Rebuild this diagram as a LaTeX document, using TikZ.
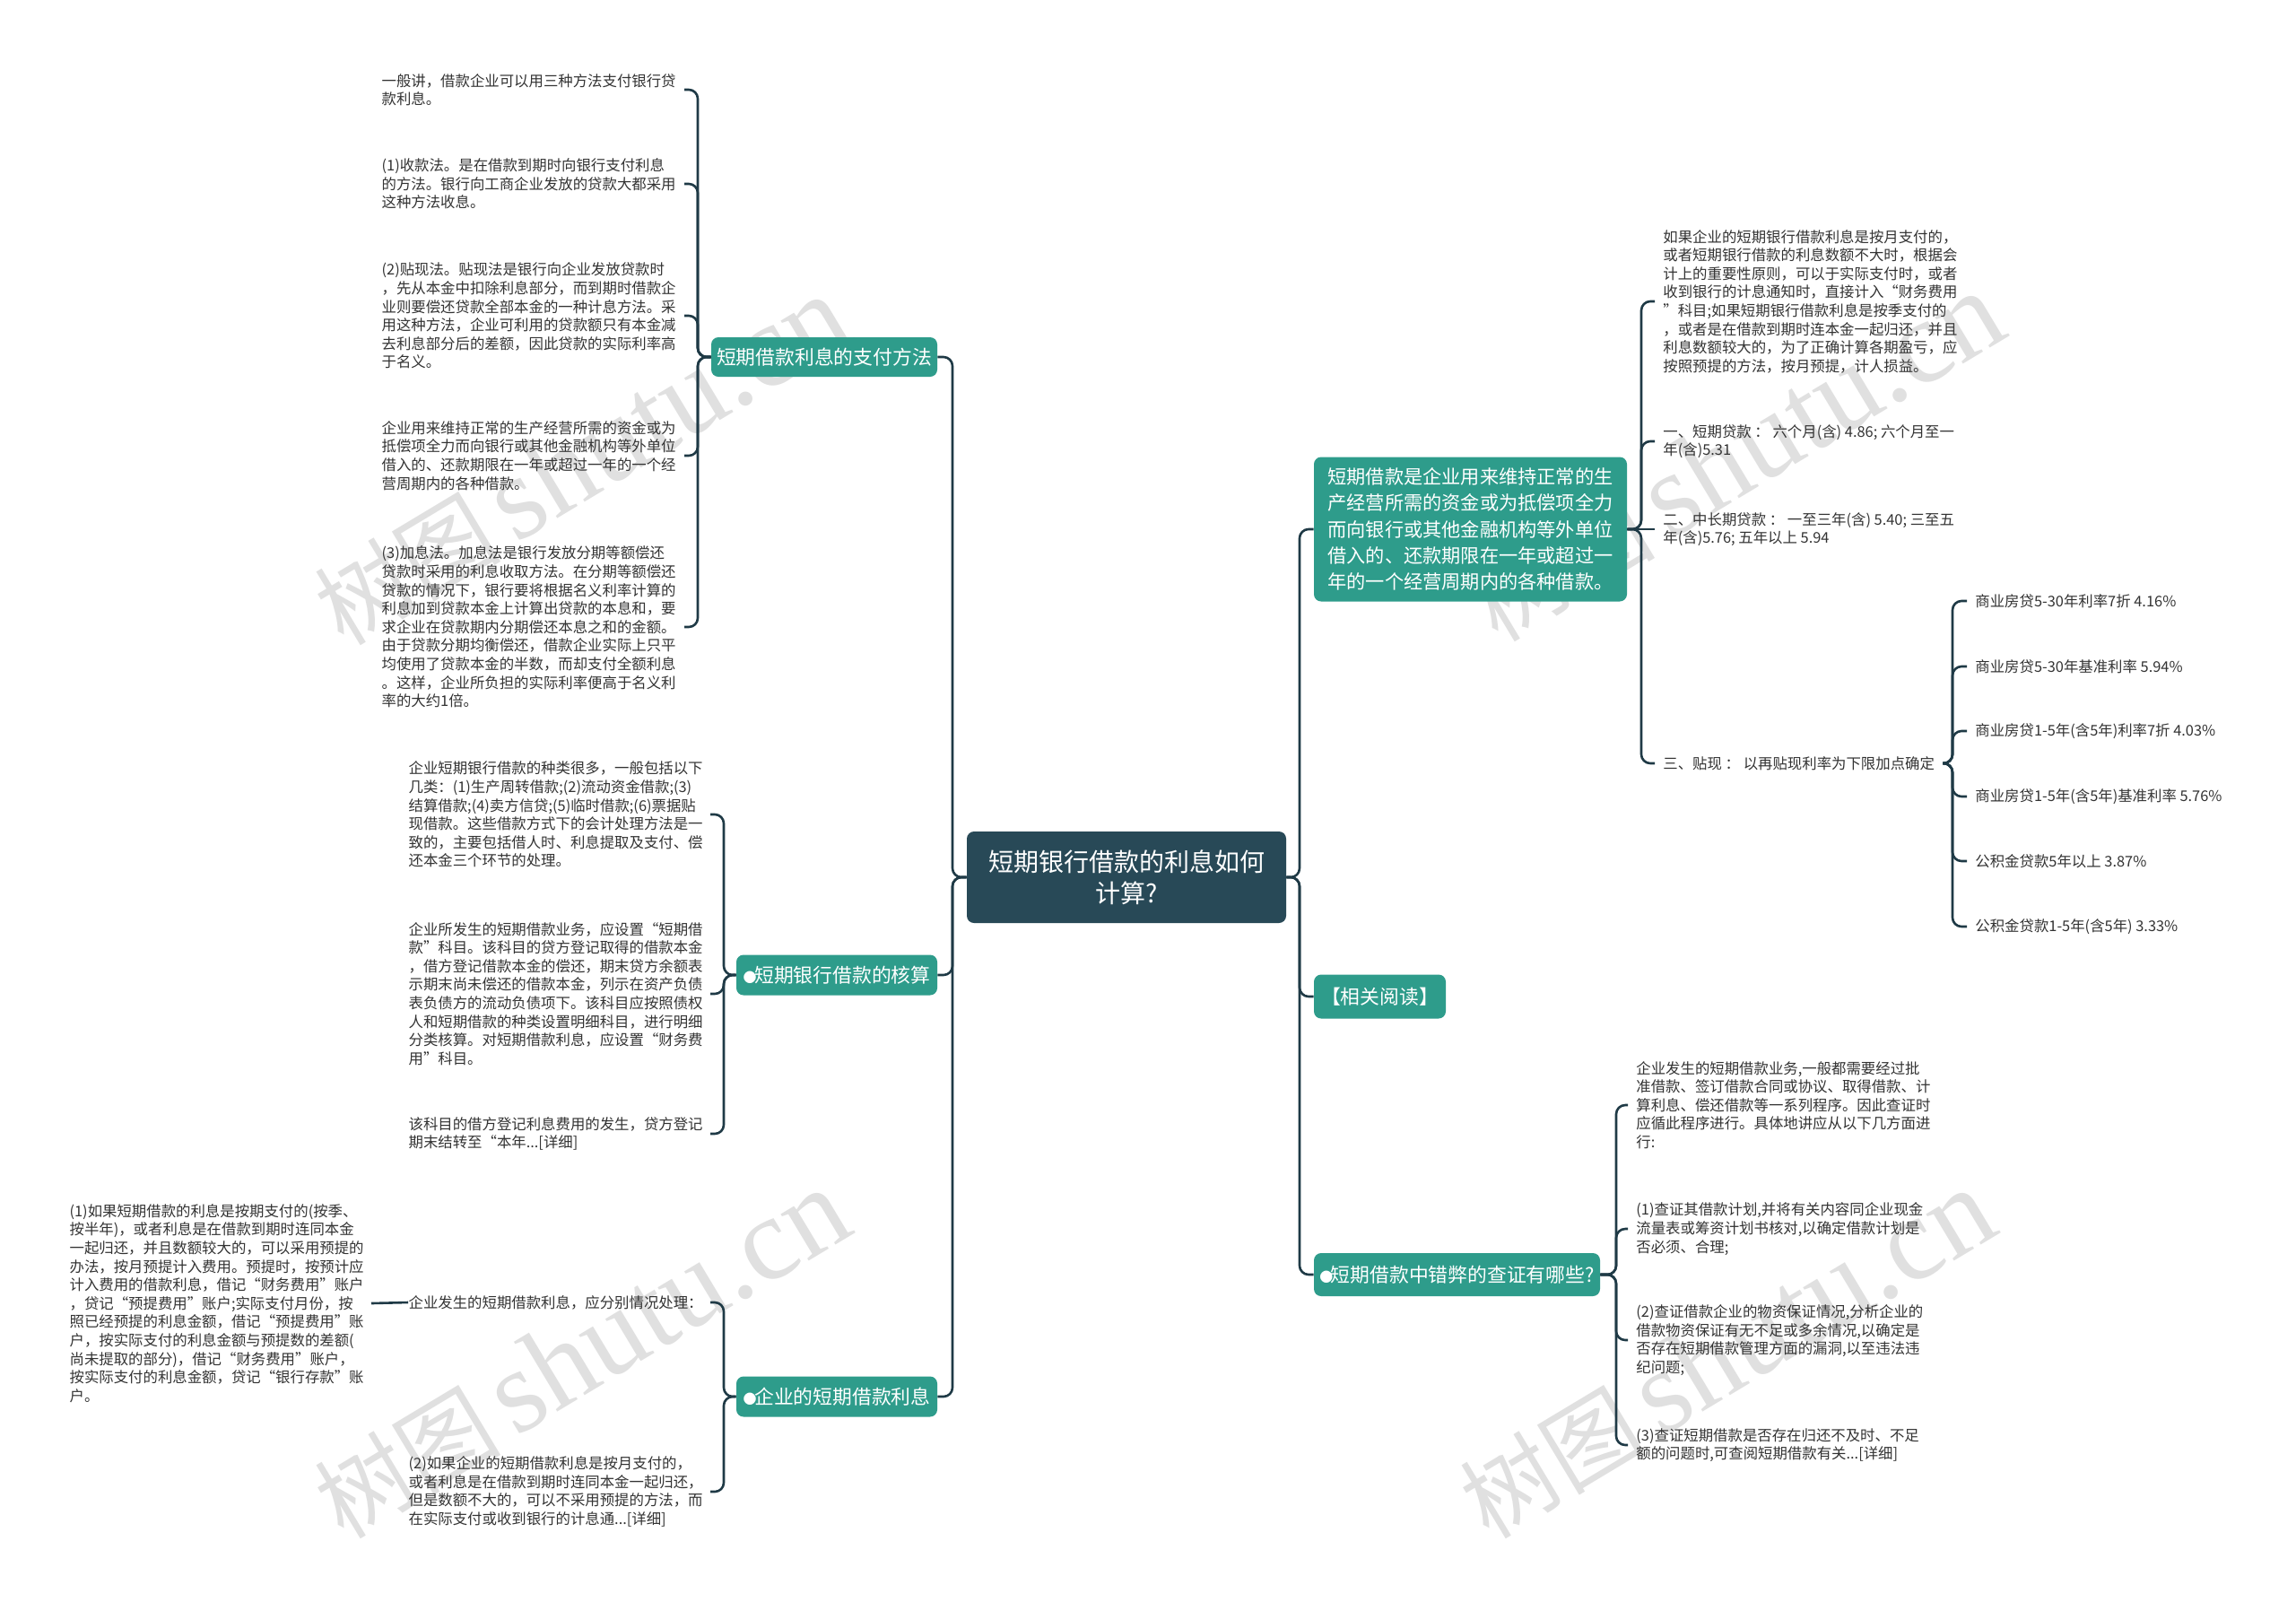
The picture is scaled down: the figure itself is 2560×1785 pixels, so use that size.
\documentclass[tikz,border=0pt]{standalone}
\usepackage{fontspec}
\setmainfont{Noto Sans CJK SC}
\newfontfamily\wmserif{Liberation Serif}
\definecolor{linec}{HTML}{1F3A46}
\definecolor{teal1}{HTML}{2E9C8B}
\definecolor{rootc}{HTML}{284957}
\definecolor{txtc}{HTML}{333333}
\definecolor{wmc}{HTML}{E0E0E0}
\newcommand\leaffont{\fontsize{8.2pt}{10.3pt}\selectfont}
\newcommand\topicfont{\fontsize{10.9pt}{14.6pt}\selectfont}
\newcommand\rootfont{\fontsize{14pt}{17.5pt}\selectfont}
\newcommand\bul{{\fontsize{7.5pt}{7.5pt}\selectfont ●}\hspace{-1.2pt}}
\newcommand\wmtext{{\fontsize{52pt}{52pt}\selectfont 树图}\hspace{8pt}{\wmserif\fontsize{66pt}{66pt}\selectfont shutu.cn}}
\begin{document}
\begin{tikzpicture}[x=0.5pt,y=-0.5pt,
 conn/.style={draw=linec,line width=1.3pt,rounded corners=5pt},
 leaf/.style={font=\leaffont,text=txtc,align=left,inner xsep=0pt,inner ysep=0pt},
 leafL/.style={leaf,anchor=east},
 leafR/.style={leaf,anchor=west,inner xsep=4.5pt},
 topic/.style={fill=teal1,text=white,rounded corners=4pt,font=\topicfont,inner sep=0pt,align=center},
 wm/.style={text=wmc,rotate=31,inner sep=0pt},
]
\useasboundingbox (0,0) rectangle (2560,1785);
\fill[white] (0,0) rectangle (2560,1785);

% watermarks
\node[wm] (wm1) at (648,514) {\wmtext};
\node[wm] (wm2) at (1935,510) {\wmtext};
\node[wm] (wm3) at (648,1510) {\wmtext};
\node[wm] (wm4) at (1925,1510) {\wmtext};

% root
\node[fill=rootc,text=white,rounded corners=4pt,font=\rootfont,align=center,
      minimum width=178pt,minimum height=51pt,inner sep=0pt] (root) at (1256,978)
      {短期银行借款的利息如何\\计算?};

% level 1 left
\node[topic,minimum width=126pt,minimum height=22pt] (n1) at (919,398) {短期借款利息的支付方法};
\node[topic,minimum width=112pt,minimum height=22.5pt] (n2) at (933,1087) {\bul 短期银行借款的核算};
\node[topic,minimum width=112pt,minimum height=22.5pt] (n3) at (933,1557) {\bul 企业的短期借款利息};

% level 1 right
\node[topic,minimum width=174.5pt,minimum height=80.5pt,align=left,
      font=\fontsize{10.6pt}{14.6pt}\selectfont] (r1) at (1639.5,590)
      {短期借款是企业用来维持正常的生\\产经营所需的资金或为抵偿项全力\\而向银行或其他金融机构等外单位\\借入的、还款期限在一年或超过一\\年的一个经营周期内的各种借款。};
\node[topic,minimum width=73.5pt,minimum height=24.5pt] (r2) at (1538.5,1111) {【相关阅读】};
\node[topic,minimum width=159.5pt,minimum height=24pt] (r3) at (1624.5,1421) {\bul 短期借款中错弊的查证有哪些?};

% leaves of n1
\node[leafL,text width=168.5pt] (l1a) at (763,100)
 {一般讲，借款企业可以用三种方法支付银行贷\\款利息。};
\node[leafL,text width=168.5pt] (l1b) at (763,205)
 {(1)收款法。是在借款到期时向银行支付利息\\的方法。银行向工商企业发放的贷款大都采用\\这种方法收息。};
\node[leafL,text width=168.5pt] (l1c) at (763,352)
 {(2)贴现法。贴现法是银行向企业发放贷款时\\，先从本金中扣除利息部分，而到期时借款企\\业则要偿还贷款全部本金的一种计息方法。采\\用这种方法，企业可利用的贷款额只有本金减\\去利息部分后的差额，因此贷款的实际利率高\\于名义。};
\node[leafL,text width=168.5pt] (l1d) at (763,508)
 {企业用来维持正常的生产经营所需的资金或为\\抵偿项全力而向银行或其他金融机构等外单位\\借入的、还款期限在一年或超过一年的一个经\\营周期内的各种借款。};
\node[leafL,text width=168.5pt] (l1e) at (763,699)
 {(3)加息法。加息法是银行发放分期等额偿还\\贷款时采用的利息收取方法。在分期等额偿还\\贷款的情况下，银行要将根据名义利率计算的\\利息加到贷款本金上计算出贷款的本息和，要\\求企业在贷款期内分期偿还本息之和的金额。\\由于贷款分期均衡偿还，借款企业实际上只平\\均使用了贷款本金的半数，而却支付全额利息\\。这样，企业所负担的实际利率便高于名义利\\率的大约1倍。};

% leaves of n2
\node[leafL,text width=168pt] (l2a) at (792,908)
 {企业短期银行借款的种类很多，一般包括以下\\几类：(1)生产周转借款;(2)流动资金借款;(3)\\结算借款;(4)卖方信贷;(5)临时借款;(6)票据贴\\现借款。这些借款方式下的会计处理方法是一\\致的，主要包括借人时、利息提取及支付、偿\\还本金三个环节的处理。};
\node[leafL,text width=168pt] (l2b) at (792,1108)
 {企业所发生的短期借款业务，应设置“短期借\\款”科目。该科目的贷方登记取得的借款本金\\，借方登记借款本金的偿还，期末贷方余额表\\示期末尚未偿还的借款本金，列示在资产负债\\表负债方的流动负债项下。该科目应按照债权\\人和短期借款的种类设置明细科目，进行明细\\分类核算。对短期借款利息，应设置“财务费\\用”科目。};
\node[leafL,text width=168pt] (l2c) at (792,1264)
 {该科目的借方登记利息费用的发生，贷方登记\\期末结转至“本年...[详细]};

% leaves of n3
\node[leafL,text width=168pt] (l3a) at (792,1452)
 {企业发生的短期借款利息，应分别情况处理：};
\node[leafL,text width=168pt] (l3aa) at (414,1453)
 {(1)如果短期借款的利息是按期支付的(按季、\\按半年)，或者利息是在借款到期时连同本金\\一起归还，并且数额较大的，可以采用预提的\\办法，按月预提计入费用。预提时，按预计应\\计入费用的借款利息，借记“财务费用”账户\\，贷记“预提费用”账户;实际支付月份，按\\照已经预提的利息金额，借记“预提费用”账\\户，按实际支付的利息金额与预提数的差额(\\尚未提取的部分)，借记“财务费用”账户，\\按实际支付的利息金额，贷记“银行存款”账\\户。};
\node[leafL,text width=168pt] (l3b) at (792,1663)
 {(2)如果企业的短期借款利息是按月支付的，\\或者利息是在借款到期时连同本金一起归还，\\但是数额不大的，可以不采用预提的方法，而\\在实际支付或收到银行的计息通...[详细]};

% leaves of r1
\node[leafR] (r1a) at (1845,336)
 {如果企业的短期银行借款利息是按月支付的，\\或者短期银行借款的利息数额不大时，根据会\\计上的重要性原则，可以于实际支付时，或者\\收到银行的计息通知时，直接计入“财务费用\\”科目;如果短期银行借款利息是按季支付的\\，或者是在借款到期时连本金一起归还，并且\\利息数额较大的，为了正确计算各期盈亏，应\\按照预提的方法，按月预提，计人损益。};
\node[leafR] (r1b) at (1845,492)
 {一、短期贷款 ： 六个月(含) 4.86; 六个月至一\\年(含)5.31};
\node[leafR] (r1c) at (1845,590)
 {二、中长期贷款 ： 一至三年(含) 5.40; 三至五\\年(含)5.76; 五年以上 5.94};
\node[leafR] (r1d) at (1845,851)
 {三、贴现 ： 以再贴现利率为下限加点确定};

% leaves of r1d
\node[leafR] (d1) at (2193,670) {商业房贷5-30年利率7折 4.16\%};
\node[leafR] (d2) at (2193,743) {商业房贷5-30年基准利率 5.94\%};
\node[leafR] (d3) at (2193,815) {商业房贷1-5年(含5年)利率7折 4.03\%};
\node[leafR] (d4) at (2193,888) {商业房贷1-5年(含5年)基准利率 5.76\%};
\node[leafR] (d5) at (2193,960) {公积金贷款5年以上 3.87\%};
\node[leafR] (d6) at (2193,1033) {公积金贷款1-5年(含5年) 3.33\%};

% leaves of r3
\node[leafR] (r3a) at (1815,1232)
 {企业发生的短期借款业务,一般都需要经过批\\准借款、签订借款合同或协议、取得借款、计\\算利息、偿还借款等一系列程序。因此查证时\\应循此程序进行。具体地讲应从以下几方面进\\行:};
\node[leafR] (r3b) at (1815,1370)
 {(1)查证其借款计划,并将有关内容同企业现金\\流量表或筹资计划书核对,以确定借款计划是\\否必须、合理;};
\node[leafR] (r3c) at (1815,1494)
 {(2)查证借款企业的物资保证情况,分析企业的\\借款物资保证有无不足或多余情况,以确定是\\否存在短期借款管理方面的漏洞,以至违法违\\纪问题;};
\node[leafR] (r3d) at (1815,1611)
 {(3)查证短期借款是否存在归还不及时、不足\\额的问题时,可查阅短期借款有关...[详细]};

% bracket junctions
\coordinate (tl) at (1062,978);
\coordinate (tr) at (1449,978);
\coordinate (b1) at (778,398);
\coordinate (b2) at (807,1087);
\coordinate (b3) at (807,1557);
\coordinate (b4) at (1830,590);
\coordinate (b5) at (2177,851);
\coordinate (b6) at (1802,1421);

% connectors
\foreach \c in {n1,n2,n3} \draw[conn] (root.west) -- (tl) |- (\c.east);
\foreach \c in {r1,r2,r3} \draw[conn] (root.east) -- (tr) |- (\c.west);
\foreach \c in {l1a,l1b,l1c,l1d,l1e} \draw[conn] (n1.west) -- (b1) |- (\c.east);
\foreach \c in {l2a,l2b,l2c} \draw[conn] (n2.west) -- (b2) |- (\c.east);
\foreach \c in {l3a,l3b} \draw[conn] (n3.west) -- (b3) |- (\c.east);
\draw[conn] (l3a.west) -- (l3aa.east);
\foreach \c in {r1a,r1b,r1d} \draw[conn] (r1.east) -- (b4) |- (\c.west);
\draw[conn] (r1.east) -- (r1c.west);
\foreach \c in {d1,d2,d3,d4,d5,d6} \draw[conn] (r1d.east) -- (b5) |- (\c.west);
\foreach \c in {r3a,r3b,r3c,r3d} \draw[conn] (r3.east) -- (b6) |- (\c.west);
\end{tikzpicture}
\end{document}
